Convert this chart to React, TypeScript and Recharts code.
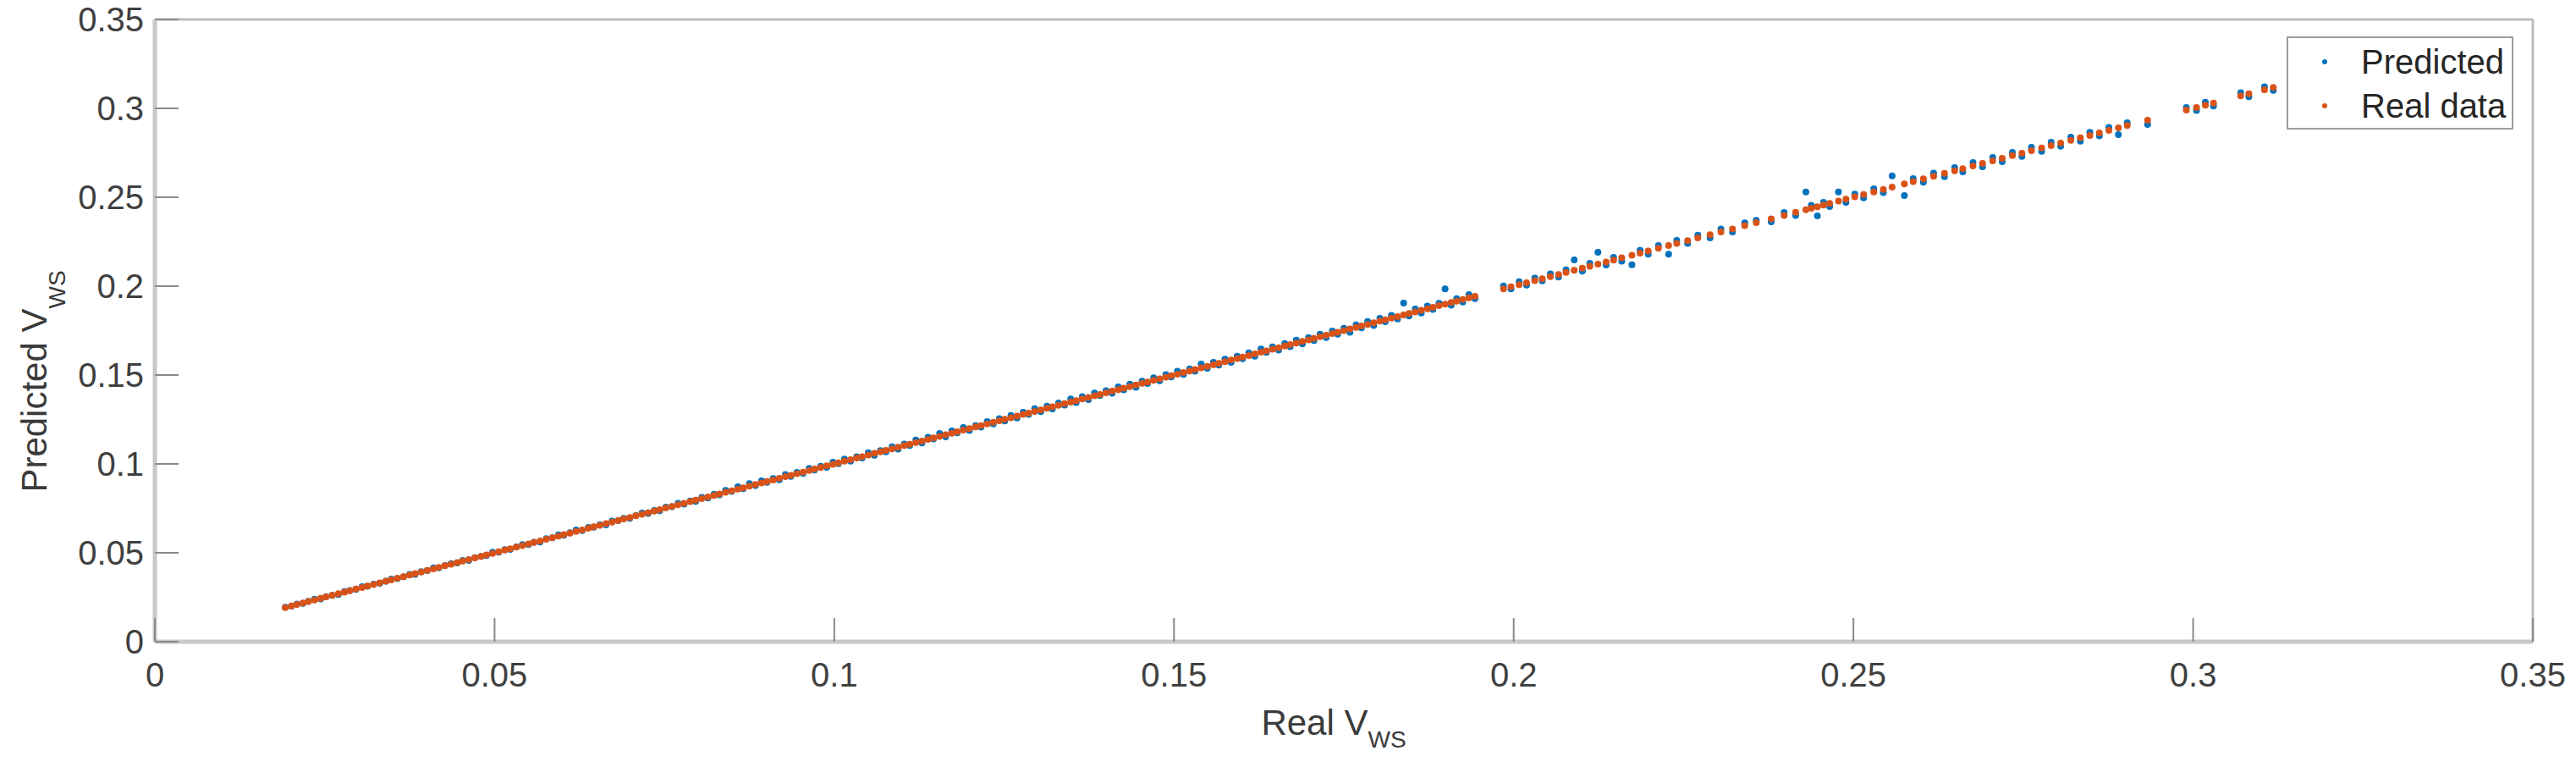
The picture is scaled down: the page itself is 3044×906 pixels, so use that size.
import React from 'react';
import { ScatterChart, Scatter, XAxis, YAxis, Legend } from 'recharts';

// Real V_WS values (x)
const realVws = [
  0.0192, 0.0201, 0.0209, 0.0218, 0.0226, 0.0235, 0.0244, 0.0252, 0.0261, 0.0270,
  0.0279, 0.0287, 0.0296, 0.0305, 0.0313, 0.0322, 0.0331, 0.0340, 0.0348, 0.0357,
  0.0366, 0.0375, 0.0383, 0.0392, 0.0401, 0.0410, 0.0418, 0.0427, 0.0436, 0.0445,
  0.0453, 0.0462, 0.0471, 0.0480, 0.0488, 0.0497, 0.0506, 0.0515, 0.0523, 0.0532,
  0.0541, 0.0550, 0.0558, 0.0567, 0.0576, 0.0585, 0.0594, 0.0602, 0.0611, 0.0620,
  0.0629, 0.0638, 0.0646, 0.0655, 0.0664, 0.0673, 0.0682, 0.0690, 0.0699, 0.0708,
  0.0717, 0.0726, 0.0735, 0.0743, 0.0752, 0.0761, 0.0770, 0.0779, 0.0788, 0.0796,
  0.0805, 0.0814, 0.0823, 0.0831, 0.0840, 0.0849, 0.0858, 0.0866, 0.0875, 0.0884,
  0.0893, 0.0901, 0.0910, 0.0919, 0.0928, 0.0936, 0.0945, 0.0954, 0.0963, 0.0971,
  0.0980, 0.0989, 0.0998, 0.1006, 0.1015, 0.1024, 0.1033, 0.1041, 0.1050, 0.1059,
  0.1068, 0.1076, 0.1085, 0.1094, 0.1103, 0.1111, 0.1120, 0.1129, 0.1138, 0.1146,
  0.1155, 0.1164, 0.1173, 0.1181, 0.1190, 0.1199, 0.1208, 0.1216, 0.1225, 0.1234,
  0.1243, 0.1251, 0.1260, 0.1269, 0.1278, 0.1286, 0.1295, 0.1304, 0.1313, 0.1321,
  0.1330, 0.1339, 0.1348, 0.1356, 0.1365, 0.1374, 0.1383, 0.1391, 0.1400, 0.1409,
  0.1418, 0.1426, 0.1435, 0.1444, 0.1453, 0.1461, 0.1470, 0.1479, 0.1488, 0.1496,
  0.1505, 0.1514, 0.1523, 0.1531, 0.1540, 0.1549, 0.1558, 0.1566, 0.1575, 0.1584,
  0.1593, 0.1601, 0.1610, 0.1619, 0.1628, 0.1636, 0.1645, 0.1654, 0.1663, 0.1671,
  0.1680, 0.1689, 0.1698, 0.1706, 0.1715, 0.1724, 0.1733, 0.1741, 0.1750, 0.1759,
  0.1768, 0.1776, 0.1785, 0.1794, 0.1803, 0.1811, 0.1820, 0.1829, 0.1838, 0.1846,
  0.1855, 0.1864, 0.1873, 0.1881, 0.1890, 0.1899, 0.1908, 0.1916, 0.1925, 0.1934,
  0.1943,
  0.1985, 0.1996, 0.2008, 0.2019, 0.2031, 0.2042, 0.2054, 0.2066, 0.2077, 0.2089,
  0.2101, 0.2112, 0.2124, 0.2136, 0.2147, 0.2159, 0.2174, 0.2186, 0.2198, 0.2213,
  0.2228, 0.2240, 0.2256, 0.2271, 0.2289, 0.2305, 0.2322, 0.2340, 0.2357, 0.2379,
  0.2398, 0.2415, 0.2430, 0.2438, 0.2447, 0.2456, 0.2465, 0.2478, 0.2489, 0.2502,
  0.2515, 0.2530, 0.2544, 0.2557, 0.2575, 0.2588, 0.2603, 0.2618, 0.2634, 0.2649,
  0.2661, 0.2676, 0.2690, 0.2705, 0.2719, 0.2734, 0.2748, 0.2762, 0.2777, 0.2791,
  0.2805, 0.2820, 0.2834, 0.2848, 0.2862, 0.2876, 0.2890, 0.2903, 0.2933, 0.2990,
  0.3005, 0.3018, 0.3030, 0.3070, 0.3082, 0.3105, 0.3118,
];

// Predicted V_WS for each real value
const predictedVws = [
  0.0194, 0.0200, 0.0212, 0.0216, 0.0227, 0.0239, 0.0241, 0.0254, 0.0261, 0.0266,
  0.0282, 0.0288, 0.0294, 0.0310, 0.0312, 0.0324, 0.0328, 0.0341, 0.0352, 0.0355,
  0.0366, 0.0378, 0.0379, 0.0394, 0.0400, 0.0415, 0.0415, 0.0428, 0.0439, 0.0443,
  0.0457, 0.0457, 0.0473, 0.0480, 0.0485, 0.0503, 0.0504, 0.0518, 0.0519, 0.0533,
  0.0546, 0.0547, 0.0560, 0.0561, 0.0580, 0.0584, 0.0601, 0.0599, 0.0613, 0.0628,
  0.0625, 0.0643, 0.0644, 0.0658, 0.0657, 0.0679, 0.0681, 0.0694, 0.0694, 0.0710,
  0.0724, 0.0722, 0.0738, 0.0737, 0.0757, 0.0759, 0.0778, 0.0774, 0.0792, 0.0789,
  0.0812, 0.0808, 0.0830, 0.0826, 0.0851, 0.0845, 0.0872, 0.0861, 0.0889, 0.0878,
  0.0905, 0.0896, 0.0918, 0.0911, 0.0941, 0.0930, 0.0952, 0.0947, 0.0975, 0.0966,
  0.0987, 0.0981, 0.1009, 0.1001, 0.1027, 0.1016, 0.1040, 0.1033, 0.1063, 0.1049,
  0.1075, 0.1068, 0.1097, 0.1083, 0.1112, 0.1104, 0.1134, 0.1118, 0.1150, 0.1140,
  0.1171, 0.1152, 0.1186, 0.1175, 0.1205, 0.1188, 0.1216, 0.1207, 0.1238, 0.1225,
  0.1255, 0.1242, 0.1273, 0.1258, 0.1290, 0.1279, 0.1311, 0.1294, 0.1325, 0.1310,
  0.1343, 0.1331, 0.1365, 0.1345, 0.1378, 0.1362, 0.1399, 0.1384, 0.1412, 0.1398,
  0.1433, 0.1417, 0.1449, 0.1431, 0.1466, 0.1452, 0.1484, 0.1468, 0.1502, 0.1489,
  0.1521, 0.1503, 0.1535, 0.1522, 0.1562, 0.1538, 0.1571, 0.1556, 0.1589, 0.1572,
  0.1606, 0.1592, 0.1625, 0.1606, 0.1646, 0.1627, 0.1658, 0.1640, 0.1677, 0.1659,
  0.1697, 0.1675, 0.1711, 0.1694, 0.1730, 0.1711, 0.1748, 0.1730, 0.1763, 0.1741,
  0.1782, 0.1765, 0.1801, 0.1779, 0.1819, 0.1800, 0.1836, 0.1815, 0.1905, 0.1832,
  0.1871, 0.1849, 0.1888, 0.1869, 0.1904, 0.1985, 0.1893, 0.1930, 0.1911, 0.1952,
  0.1930,
  0.2001, 0.1984, 0.2025, 0.2006, 0.2045, 0.2030, 0.2069, 0.2051, 0.2092, 0.2148,
  0.2085, 0.2128, 0.2190, 0.2119, 0.2162, 0.2141, 0.2120, 0.2201, 0.2180, 0.2229,
  0.2180, 0.2257, 0.2241, 0.2287, 0.2272, 0.2322, 0.2305, 0.2356, 0.2370, 0.2362,
  0.2414, 0.2398, 0.2530, 0.2455, 0.2395, 0.2472, 0.2448, 0.2530, 0.2471, 0.2518,
  0.2497, 0.2548, 0.2526, 0.2620, 0.2510, 0.2605, 0.2585, 0.2636, 0.2616, 0.2667,
  0.2643, 0.2695, 0.2672, 0.2724, 0.2700, 0.2752, 0.2730, 0.2781, 0.2758, 0.2810,
  0.2787, 0.2838, 0.2815, 0.2866, 0.2845, 0.2893, 0.2852, 0.2919, 0.2910, 0.3005,
  0.2988, 0.3035, 0.3013, 0.3088, 0.3066, 0.3122, 0.3101,
];

const axisTicks = [0, 0.05, 0.1, 0.15, 0.2, 0.25, 0.3, 0.35];
const seriesNames = ['Predicted', 'Real data'];
const seriesColors = ['#0072BD', '#D95319'];

const FONT = '"Liberation Sans", Arial, Helvetica, sans-serif';
const TICK_TEXT = '#404040';
const TICK_LINE = '#8a8a8a';
const TICK_LEN = 28;

const predictedPoints = realVws.map((x, i) => ({ x, y: predictedVws[i] }));
const realPoints = realVws.map((x) => ({ x, y: x }));

const dot = (color: string) => (props: any) => (
  <circle cx={props.cx} cy={props.cy} r={4} fill={color} />
);

const BottomTick = (props: any) => {
  const { x, y, payload } = props;
  return (
    <g>
      <line x1={x} x2={x} y1={y} y2={y - TICK_LEN} stroke={TICK_LINE} strokeWidth={2} />
      <text x={x} y={y + 53} textAnchor="middle" fontSize={40} fontFamily={FONT} fill={TICK_TEXT}>
        {String(payload.value)}
      </text>
    </g>
  );
};

const LeftTick = (props: any) => {
  const { x, y, payload } = props;
  return (
    <g>
      <line x1={x} x2={x + TICK_LEN} y1={y} y2={y} stroke={TICK_LINE} strokeWidth={2} />
      <text x={x - 13} y={y + 14} textAnchor="end" fontSize={40} fontFamily={FONT} fill={TICK_TEXT}>
        {String(payload.value)}
      </text>
    </g>
  );
};

const TopTick = (props: any) => {
  const { x, y } = props;
  return <line x1={x} x2={x} y1={y} y2={y + TICK_LEN} stroke={TICK_LINE} strokeWidth={2} />;
};

const RightTick = (props: any) => {
  const { x, y } = props;
  return <line x1={x} x2={x - TICK_LEN} y1={y} y2={y} stroke={TICK_LINE} strokeWidth={2} />;
};

const XLabel = (props: any) => {
  const vb = props.viewBox;
  const cx = vb.x + vb.width / 2 - 12;
  return (
    <text x={cx} y={868} textAnchor="middle" fontSize={42} fontFamily={FONT} fill="#3a3a3a">
      Real V<tspan fontSize={28} dy={15}>WS</tspan>
    </text>
  );
};

const YLabel = (props: any) => {
  const vb = props.viewBox;
  const cy = vb.y + vb.height / 2 + 60;
  const bx = 55;
  return (
    <text
      x={bx}
      y={cy}
      transform={`rotate(-90 ${bx} ${cy})`}
      textAnchor="middle"
      fontSize={42}
      fontFamily={FONT}
      fill="#3a3a3a"
    >
      Predicted V<tspan fontSize={28} dy={22}>WS</tspan>
    </text>
  );
};

const LegendBox = () => (
  <div
    style={{
      boxSizing: 'border-box',
      width: 268,
      height: 110,
      border: '2px solid #9b9b9b',
      background: '#fff',
      position: 'relative',
      fontFamily: FONT,
      fontSize: 40,
      color: '#262626',
    }}
  >
    {seriesNames.map((name, i) => (
      <div key={name} style={{ position: 'absolute', left: 0, top: 2 + i * 52, height: 52, width: '100%' }}>
        <span
          style={{
            position: 'absolute',
            left: 40,
            top: 23,
            width: 6,
            height: 6,
            borderRadius: 3,
            background: seriesColors[i],
          }}
        />
        <span style={{ position: 'absolute', left: 86, top: 0, lineHeight: '52px', whiteSpace: 'nowrap' }}>
          {name}
        </span>
      </div>
    ))}
  </div>
);

export default function App() {
  return (
    <div style={{ position: 'absolute', left: 0, top: 0, width: 3044, height: 906, background: '#fff' }}>
      <ScatterChart width={3044} height={906} margin={{ top: 22, right: 50, bottom: 48, left: 63 }}>
        <XAxis
          xAxisId="main"
          type="number"
          dataKey="x"
          domain={[0, 0.35]}
          ticks={axisTicks}
          interval={0}
          height={100}
          tickSize={0}
          tickMargin={0}
          tickLine={false}
          tick={<BottomTick />}
          axisLine={{ stroke: '#c8c8c8', strokeWidth: 5 }}
          label={{ content: XLabel }}
        />
        <XAxis
          xAxisId="top"
          orientation="top"
          type="number"
          domain={[0, 0.35]}
          ticks={axisTicks}
          interval={0}
          height={1}
          tickSize={0}
          tickMargin={0}
          tickLine={false}
          tick={<TopTick />}
          axisLine={{ stroke: '#bdbdbd', strokeWidth: 3 }}
        />
        <YAxis
          yAxisId="main"
          type="number"
          dataKey="y"
          domain={[0, 0.35]}
          ticks={axisTicks}
          interval={0}
          width={120}
          tickSize={0}
          tickMargin={0}
          tickLine={false}
          tick={<LeftTick />}
          axisLine={{ stroke: '#c8c8c8', strokeWidth: 5 }}
          label={{ content: YLabel }}
        />
        <YAxis
          yAxisId="right"
          orientation="right"
          type="number"
          domain={[0, 0.35]}
          ticks={axisTicks}
          interval={0}
          width={1}
          tickSize={0}
          tickMargin={0}
          tickLine={false}
          tick={<RightTick />}
          axisLine={{ stroke: '#bdbdbd', strokeWidth: 3 }}
        />
        <Legend
          layout="vertical"
          align="center"
          verticalAlign="middle"
          wrapperStyle={{ position: 'absolute', left: 2702, top: 43, width: 268, height: 110 }}
          content={<LegendBox />}
        />
        <Scatter
          name={seriesNames[0]}
          data={predictedPoints}
          xAxisId="main"
          yAxisId="main"
          fill={seriesColors[0]}
          shape={dot(seriesColors[0])}
          isAnimationActive={false}
        />
        <Scatter
          name={seriesNames[1]}
          data={realPoints}
          xAxisId="main"
          yAxisId="main"
          fill={seriesColors[1]}
          shape={dot(seriesColors[1])}
          isAnimationActive={false}
        />
      </ScatterChart>
    </div>
  );
}
